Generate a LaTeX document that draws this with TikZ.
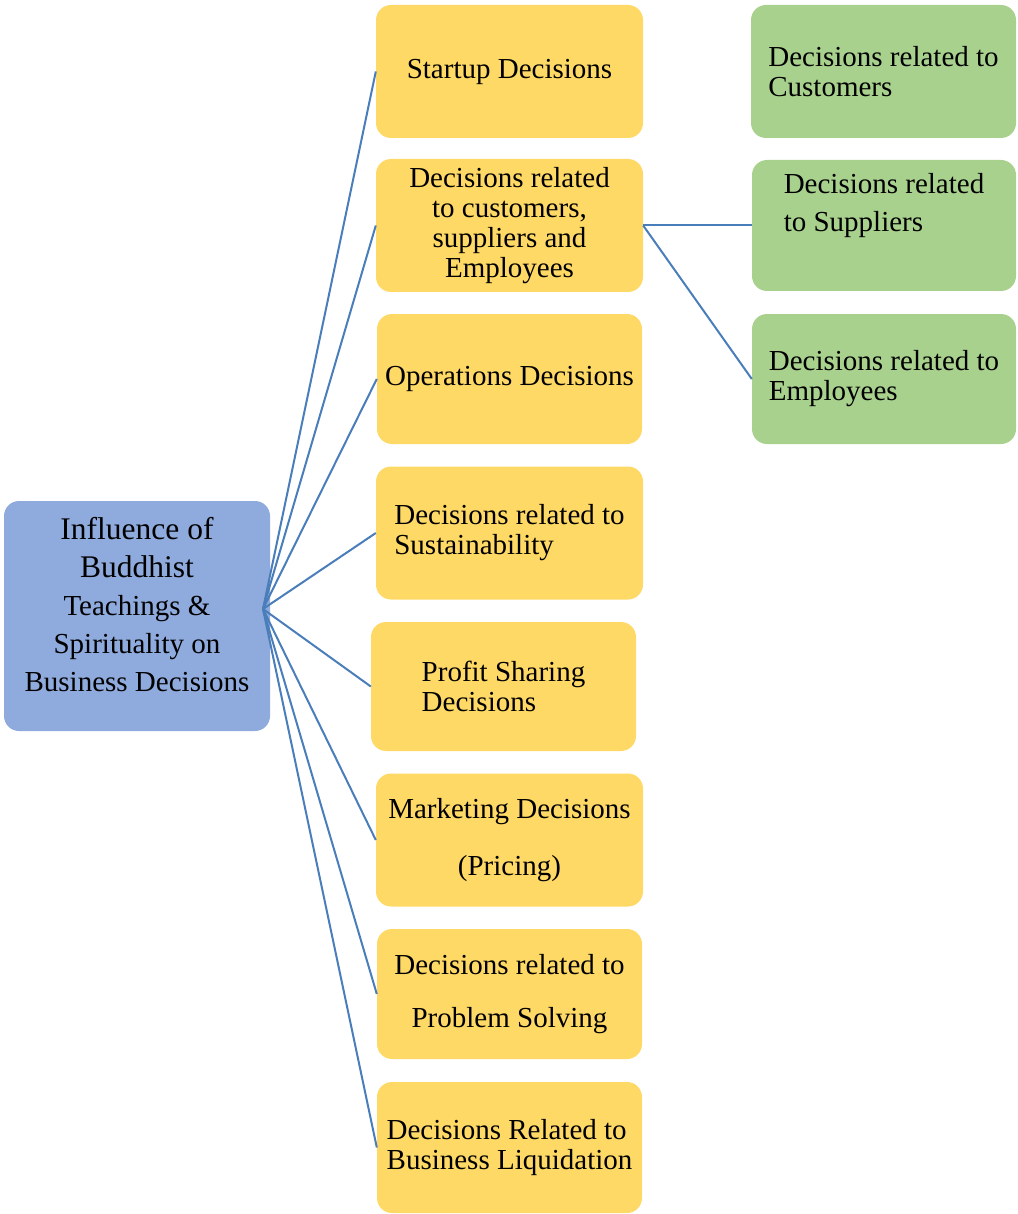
\documentclass[tikz,border=0pt]{standalone}
\usepackage{fontspec}
\setmainfont{Liberation Serif}
\definecolor{hubblue}{HTML}{8FAADC}
\definecolor{boxyellow}{HTML}{FFD966}
\definecolor{boxgreen}{HTML}{A9D18E}
\definecolor{linkblue}{HTML}{4A7EBB}

\begin{document}
\begin{tikzpicture}[x=1pt,y=-1pt,
  txt/.style={font=\fontsize{29}{30}\selectfont},
  ybox/.style={txt,fill=boxyellow,rounded corners=15pt,inner sep=0pt,minimum width=267pt,minimum height=133pt},
  gbox/.style={txt,fill=boxgreen,rounded corners=15pt,inner sep=0pt,minimum width=265pt,minimum height=133pt,align=left},
  hubbox/.style={fill=hubblue,rounded corners=15pt,inner sep=0pt,minimum width=266pt,minimum height=230pt,align=center,font=\fontsize{29}{38}\selectfont},
  link/.style={draw=linkblue,line width=2pt}]
  \useasboundingbox (0,0) rectangle (1017,1214);

  \node[hubbox] (hub) at (137,616) {{\fontsize{31.5}{38}\selectfont Influence of}\\{\fontsize{31.5}{38}\selectfont Buddhist}\\Teachings \&\\Spirituality on\\Business Decisions\\[-14pt]};

  % yellow column
  \node[ybox] (s1) at (509.5,71.5) {Startup Decisions};
  \node[ybox,align=center] (s2) at (509.5,225.5) {Decisions related\\to customers,\\suppliers and\\Employees};
  \node[ybox,minimum width=265pt,minimum height=130pt] (s3) at (509.5,379) {Operations Decisions};
  \node[ybox,align=left] (s4) at (509.5,533) {Decisions related to\\Sustainability};
  \node[ybox,align=left,minimum width=265pt,minimum height=129pt] (s5) at (503.5,686.5) {Profit Sharing\\Decisions};
  \node[ybox,align=center] (s6) at (509.5,840) {Marketing Decisions\\[27pt](Pricing)};
  \node[ybox,align=center,minimum width=265pt,minimum height=130pt] (s7) at (509.5,994) {Decisions related to\\[23pt]Problem Solving};
  \node[ybox,align=left,minimum width=265pt,minimum height=131pt] (s8) at (509.5,1147.5) {Decisions Related to\\Business Liquidation};

  % green column
  \node[gbox] (c1) at (883.5,71.5) {Decisions related to\\Customers};
  \node[gbox,minimum width=264pt,minimum height=131pt] (c2) at (884,225.5) {};
  \node[txt,align=left] (c2text) at (884,206) {Decisions related\\[8pt]to Suppliers};
  \node[gbox,minimum width=264pt,minimum height=130pt] (c3) at (884,379) {Decisions related to\\Employees};

  \coordinate (focus) at (263,609);
  \foreach \i in {1,...,8} {
    \draw[link] (focus) -- (s\i.west);
  }
  \draw[link] (s2.east) -- (c2.west);
  \draw[link] (s2.east) -- (c3.west);
\end{tikzpicture}
\end{document}
